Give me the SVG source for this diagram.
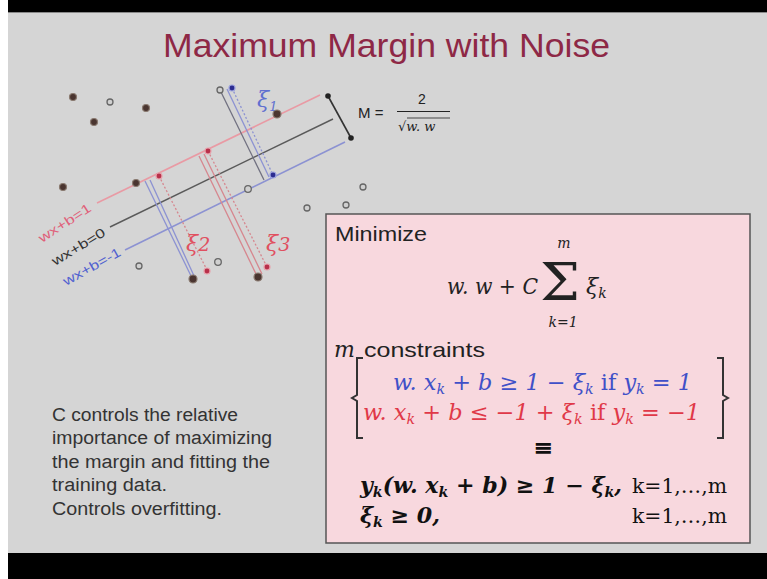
<svg xmlns="http://www.w3.org/2000/svg" width="767" height="579" viewBox="0 0 767 579">
<defs>
<style>
.sans{font-family:"Liberation Sans","Open Sans",sans-serif}
.math{font-family:"DejaVu Serif","Liberation Serif",serif;font-style:italic}
.rm{font-family:"DejaVu Serif","Liberation Serif",serif}
.dk{fill:#4a3530;stroke:#8a7a70;stroke-width:1.2}
.op{fill:#d0d0d0;stroke:#666;stroke-width:1.3}
.rd{fill:#b8304a;stroke:#e7a0aa;stroke-width:1.2}
.bl{fill:#2c2c90;stroke:#9aa0dd;stroke-width:1.2}
.bk{fill:#222;stroke:none}
.lp{stroke:#e99aa4;stroke-width:1.6;fill:none}
.lk{stroke:#5a5a5a;stroke-width:1.4;fill:none}
.lb{stroke:#8c92d2;stroke-width:1.6;fill:none}
.pg{stroke:#707080;stroke-width:1.3}
.pb{stroke:#8c92d2;stroke-width:1.3}
.pr{stroke:#d6868e;stroke-width:1.3}
.dot{stroke-dasharray:2 2}
</style>
</defs>
<rect x="0" y="0" width="767" height="579" fill="#ffffff"/>
<rect x="8" y="0" width="759" height="12" fill="#000"/>
<rect x="8" y="12" width="759" height="541" fill="#d5d5d5"/>
<line x1="8" y1="12.5" x2="767" y2="12.5" stroke="#888" stroke-width="1"/>
<rect x="8" y="553" width="759" height="26" fill="#000"/>

<g id="title">
<text class="sans" x="163" y="57" font-size="33" fill="#8e2846" textLength="447" lengthAdjust="spacingAndGlyphs">Maximum Margin with Noise</text>
</g>

<g id="connectors">
<line class="lp" x1="97" y1="203" x2="320" y2="95"/>
<line class="lk" x1="110" y1="227" x2="333" y2="119"/>
<line class="lb" x1="125" y1="250" x2="345" y2="142"/>
<line stroke="#333" stroke-width="1.6" x1="328" y1="96" x2="351" y2="138"/>
<line class="pg" x1="220" y1="90" x2="264" y2="180"/>
<line class="pb" x1="227" y1="89" x2="269" y2="177"/>
<line class="pb dot" x1="232" y1="88" x2="273" y2="175"/>
<line class="pb" x1="145" y1="181" x2="192" y2="278"/>
<line class="pb" x1="150" y1="180" x2="195" y2="278"/>
<line class="pr dot" x1="159" y1="176" x2="207" y2="270"/>
<line class="pr" x1="199" y1="156" x2="257" y2="276"/>
<line class="pr" x1="204" y1="154" x2="262" y2="274"/>
<line class="pr dot" x1="208" y1="151" x2="267" y2="267"/>
</g>

<g id="points">
<circle class="dk" cx="73" cy="97" r="3.5"/>
<circle class="op" cx="110" cy="102" r="3"/>
<circle class="dk" cx="146" cy="108" r="3.5"/>
<circle class="dk" cx="94" cy="122" r="3.5"/>
<circle class="dk" cx="63" cy="187" r="3.5"/>
<circle class="dk" cx="136" cy="183" r="3.5"/>
<circle class="rd" cx="159" cy="176" r="3"/>
<circle class="rd" cx="208" cy="151" r="3"/>
<circle class="op" cx="220" cy="90" r="3"/>
<circle class="bl" cx="232" cy="88" r="3"/>
<circle class="dk" cx="277" cy="114" r="4"/>
<circle class="bk" cx="328" cy="96" r="2.8"/>
<circle class="bk" cx="351" cy="138" r="2.8"/>
<circle class="bl" cx="273" cy="175" r="3"/>
<circle class="op" cx="248" cy="189" r="3.3"/>
<circle class="op" cx="363" cy="187" r="3"/>
<circle class="op" cx="307" cy="208" r="3"/>
<circle class="op" cx="346" cy="205" r="3"/>
<circle class="op" cx="139" cy="266" r="3"/>
<circle class="op" cx="218" cy="262" r="3.3"/>
<circle class="rd" cx="207" cy="271" r="3"/>
<circle class="dk" cx="193" cy="279" r="4"/>
<circle class="dk" cx="258" cy="277" r="4"/>
<circle class="rd" cx="267" cy="267" r="3"/>
</g>

<g id="line-labels">
<text class="sans" font-size="13" fill="#e0607a" transform="translate(42,243) rotate(-33)" textLength="60" lengthAdjust="spacingAndGlyphs">wx+b=1</text>
<text class="sans" font-size="13" fill="#333" transform="translate(55,266) rotate(-31)" textLength="60" lengthAdjust="spacingAndGlyphs">wx+b=0</text>
<text class="sans" font-size="13" fill="#5060d0" transform="translate(66,286) rotate(-29)" textLength="64" lengthAdjust="spacingAndGlyphs">wx+b=-1</text>
</g>

<g id="xi-labels">
<text class="math" x="257" y="107" font-size="22" fill="#6070d0">ξ<tspan font-size="13" dy="4">1</tspan></text>
<text class="math" x="186" y="251" font-size="22" fill="#e05060">ξ<tspan font-size="19">2</tspan></text>
<text class="math" x="266" y="251" font-size="22" fill="#e05060">ξ<tspan font-size="19">3</tspan></text>
</g>

<g id="margin-formula">
<text class="sans" x="358" y="118" font-size="15" fill="#222">M =</text>
<text class="sans" x="422" y="104" font-size="14" fill="#222" text-anchor="middle">2</text>
<line x1="397" y1="111.5" x2="450" y2="111.5" stroke="#222" stroke-width="1"/>
<text class="math" x="398" y="131" font-size="13" fill="#222"><tspan font-style="normal">√</tspan>w. w</text>
<line x1="407" y1="118" x2="450" y2="118" stroke="#222" stroke-width="0.8"/>
</g>

<g id="note">
<text class="sans" font-size="18" fill="#333"><tspan x="52" y="421" textLength="186" lengthAdjust="spacingAndGlyphs">C controls the relative</tspan></text>
<text class="sans" font-size="18" fill="#333"><tspan x="52" y="444" textLength="220" lengthAdjust="spacingAndGlyphs">importance of maximizing</tspan></text>
<text class="sans" font-size="18" fill="#333"><tspan x="52" y="468" textLength="218" lengthAdjust="spacingAndGlyphs">the margin and fitting the</tspan></text>
<text class="sans" font-size="18" fill="#333"><tspan x="52" y="491" textLength="115" lengthAdjust="spacingAndGlyphs">training data.</tspan></text>
<text class="sans" font-size="18" fill="#333"><tspan x="52" y="515" textLength="170" lengthAdjust="spacingAndGlyphs">Controls overfitting.</tspan></text>
</g>

<g id="objective-box">
<rect x="326" y="214" width="424" height="329" fill="#f8d8de" stroke="#555" stroke-width="1.5"/>
<text class="sans" x="335" y="241" font-size="21" fill="#222" textLength="92" lengthAdjust="spacingAndGlyphs">Minimize</text>
<text class="math" x="447" y="294" font-size="22" fill="#222" textLength="91" lengthAdjust="spacingAndGlyphs">w. w + C</text>
<text class="rm" x="540" y="300" font-size="52" fill="#222" textLength="40" lengthAdjust="spacingAndGlyphs">Σ</text>
<text class="math" x="564" y="248" font-size="14" fill="#222" text-anchor="middle">m</text>
<text class="math" x="563" y="327" font-size="14" fill="#222" text-anchor="middle">k=1</text>
<text class="math" x="586" y="294" font-size="22" fill="#222">ξ<tspan font-size="14" dy="4">k</tspan></text>
<text class="math" x="334" y="357" font-size="22" fill="#222">m</text>
<text class="sans" x="364" y="357" font-size="21" fill="#222" textLength="121" lengthAdjust="spacingAndGlyphs">constraints</text>
<path d="M363,358 H357 V395 L352,398 L357,401 V438 H363" fill="none" stroke="#333" stroke-width="2"/>
<path d="M717,358 H723 V395 L728,398 L723,401 V438 H717" fill="none" stroke="#333" stroke-width="2"/>
<text class="math" x="393" y="390" font-size="22" fill="#4050c8" textLength="299" lengthAdjust="spacingAndGlyphs">w. x<tspan font-size="14" dy="4">k</tspan><tspan dy="-4"> + b ≥ 1 − ξ</tspan><tspan font-size="14" dy="4">k</tspan><tspan dy="-4" font-style="normal"> if </tspan><tspan>y</tspan><tspan font-size="14" dy="4">k</tspan><tspan dy="-4"> = 1</tspan></text>
<text class="math" x="363" y="420" font-size="22" fill="#e03848" textLength="337" lengthAdjust="spacingAndGlyphs">w. x<tspan font-size="14" dy="4">k</tspan><tspan dy="-4"> + b ≤ −1 + ξ</tspan><tspan font-size="14" dy="4">k</tspan><tspan dy="-4" font-style="normal"> if </tspan><tspan>y</tspan><tspan font-size="14" dy="4">k</tspan><tspan dy="-4"> = −1</tspan></text>
<text class="rm" x="543" y="456" font-size="24" fill="#111" text-anchor="middle" font-weight="bold">≡</text>
<text class="math" x="360" y="493" font-size="22" font-weight="bold" fill="#111" textLength="262" lengthAdjust="spacingAndGlyphs">y<tspan font-size="14" dy="4">k</tspan><tspan dy="-4">(w. x</tspan><tspan font-size="14" dy="4">k</tspan><tspan dy="-4"> + b) ≥ 1 − ξ</tspan><tspan font-size="14" dy="4">k</tspan><tspan dy="-4">,</tspan></text>
<text class="rm" x="632" y="493" font-size="20" fill="#111" textLength="95" lengthAdjust="spacingAndGlyphs">k=1,…,m</text>
<text class="math" x="360" y="523" font-size="22" font-weight="bold" fill="#111" textLength="80" lengthAdjust="spacingAndGlyphs">ξ<tspan font-size="14" dy="4">k</tspan><tspan dy="-4"> ≥ 0,</tspan></text>
<text class="rm" x="632" y="523" font-size="20" fill="#111" textLength="95" lengthAdjust="spacingAndGlyphs">k=1,…,m</text>
</g>
</svg>
